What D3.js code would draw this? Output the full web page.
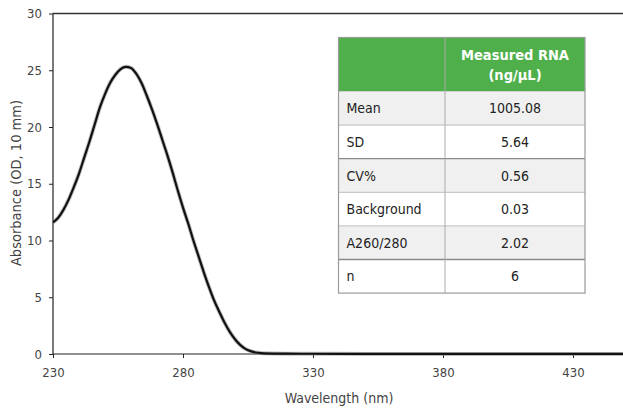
<!DOCTYPE html>
<html>
<head>
<meta charset="utf-8">
<script src="https://cdn.jsdelivr.net/npm/d3@7"></script>
<style>
  html, body { margin: 0; padding: 0; background: #fff; }
  svg { display: block; }
  text { font-family: "DejaVu Sans Condensed", "DejaVu Sans", sans-serif; }
</style>
</head>
<body>
<svg id="chart" width="623" height="414"></svg>
<script>
// ---- data ----
const wavelengths = [230,232,234,236,238,240,242,244,246,248,250,252,254,256,258,260,262,264,266,268,270,272,274,276,278,280,282,284,286,288,290,292,294,296,298,300,302,304,306,308,310,315,320,330,350,400,450];
const absorbance  = [11.6,12.0,12.7,13.6,14.7,15.9,17.3,18.7,20.2,21.7,22.9,23.9,24.6,25.1,25.3,25.2,24.7,23.9,22.8,21.6,20.3,18.9,17.5,16.0,14.4,12.9,11.5,10.0,8.6,7.2,5.9,4.7,3.7,2.75,1.95,1.3,0.8,0.45,0.25,0.13,0.08,0.04,0.03,0.02,0.01,0.01,0.01];
const xTicks = [230,280,330,380,430];
const yTicks = [0,5,10,15,20,25,30];
const tableHeader = ["", "Measured RNA", "(ng/µL)"];
const rowLabels = ["Mean","SD","CV%","Background","A260/280","n"];
const rowValues = ["1005.08","5.64","0.56","0.03","2.02","6"];

// ---- layout ----
const svg = d3.select("#chart");
const x = d3.scaleLinear().domain([230, 450]).range([53, 625]);
const y = d3.scaleLinear().domain([0, 30]).range([354, 13.5]);

// top border
svg.append("line").attr("x1", x(230)).attr("x2", 623).attr("y1", y(30)).attr("y2", y(30))
  .attr("stroke", "#333").attr("stroke-width", 1.3);

// axes
const xAxis = svg.append("g").attr("transform", `translate(0,${y(0)})`)
  .call(d3.axisBottom(x).tickValues(xTicks).tickSize(4).tickPadding(10).tickFormat(d3.format("d")));
const yAxis = svg.append("g").attr("transform", `translate(${x(230)},0)`)
  .call(d3.axisLeft(y).tickValues(yTicks).tickSize(4).tickPadding(7));
[xAxis, yAxis].forEach(g => {
  g.select(".domain").attr("stroke", "#222").attr("stroke-width", 1.2);
  g.selectAll(".tick line").attr("stroke", "#222");
  g.selectAll(".tick text").attr("fill", "#444").attr("font-size", 13);
});
xAxis.select(".domain").attr("d", `M${x(230)},0H623`);
yAxis.select(".domain").attr("d", `M0,${y(0)}V${y(30)}`);

// axis titles
svg.append("text").attr("x", 339).attr("y", 403).attr("text-anchor", "middle")
  .attr("fill", "#444").attr("font-size", 14).text("Wavelength (nm)");
svg.append("text").attr("transform", `translate(21,183) rotate(-90)`)
  .attr("text-anchor", "middle").attr("fill", "#444").attr("font-size", 14.5)
  .text("Absorbance (OD, 10 mm)");

// curve
const data = wavelengths.map((w, i) => [w, absorbance[i]]);
const line = d3.line().x(d => x(d[0])).y(d => y(d[1])).curve(d3.curveMonotoneX);
svg.append("path").datum(data).attr("d", line).attr("fill", "none")
  .attr("stroke", "#888").attr("stroke-opacity", 0.55).attr("stroke-width", 4);
svg.append("path").datum(data).attr("d", line).attr("fill", "none")
  .attr("stroke", "#111").attr("stroke-width", 2.2);

// ---- table ----
const tx0 = 338.5, tx1 = 445, tx2 = 585;
const ty0 = 37.5, headerH = 54, rowH = 33.6;
const tbl = svg.append("g");
tbl.append("rect").attr("x", tx0).attr("y", ty0).attr("width", tx2 - tx0).attr("height", headerH)
  .attr("fill", "#4faf4a");
rowLabels.forEach((lab, i) => {
  const ry = ty0 + headerH + i * rowH;
  tbl.append("rect").attr("x", tx0).attr("y", ry).attr("width", tx2 - tx0).attr("height", rowH)
    .attr("fill", i % 2 === 0 ? "#f0f0f0" : "#ffffff");
  tbl.append("text").attr("x", tx0 + 8).attr("y", ry + rowH / 2 + 5)
    .attr("font-size", 14).attr("fill", "#222").text(lab);
  tbl.append("text").attr("x", (tx1 + tx2) / 2).attr("y", ry + rowH / 2 + 5)
    .attr("text-anchor", "middle").attr("font-size", 14).attr("fill", "#222").text(rowValues[i]);
  if (i > 0) {
    tbl.append("line").attr("x1", tx0).attr("x2", tx2).attr("y1", ry).attr("y2", ry)
      .attr("stroke", (i === 2 || i === 5) ? "#8a8a8a" : "#bdbdbd").attr("stroke-width", (i === 2 || i === 5) ? 1.3 : 1);
  }
});
const tBottom = ty0 + headerH + rowLabels.length * rowH;
tbl.append("line").attr("x1", tx0).attr("x2", tx2).attr("y1", ty0 + headerH).attr("y2", ty0 + headerH)
  .attr("stroke", "#cfcfcf").attr("stroke-width", 1);
tbl.append("line").attr("x1", tx1).attr("x2", tx1).attr("y1", ty0).attr("y2", tBottom)
  .attr("stroke", "#aaa").attr("stroke-width", 1);
tbl.append("rect").attr("x", tx0).attr("y", ty0).attr("width", tx2 - tx0).attr("height", tBottom - ty0)
  .attr("fill", "none").attr("stroke", "#9a9a9a").attr("stroke-width", 1.2);
tbl.append("text").attr("x", (tx1 + tx2) / 2).attr("y", ty0 + 22)
  .attr("text-anchor", "middle").attr("font-size", 14.5).attr("font-weight", "bold").attr("fill", "#fff")
  .text(tableHeader[1]);
tbl.append("text").attr("x", (tx1 + tx2) / 2).attr("y", ty0 + 42)
  .attr("text-anchor", "middle").attr("font-size", 14.5).attr("font-weight", "bold").attr("fill", "#fff")
  .text(tableHeader[2]);
</script>
</body>
</html>
